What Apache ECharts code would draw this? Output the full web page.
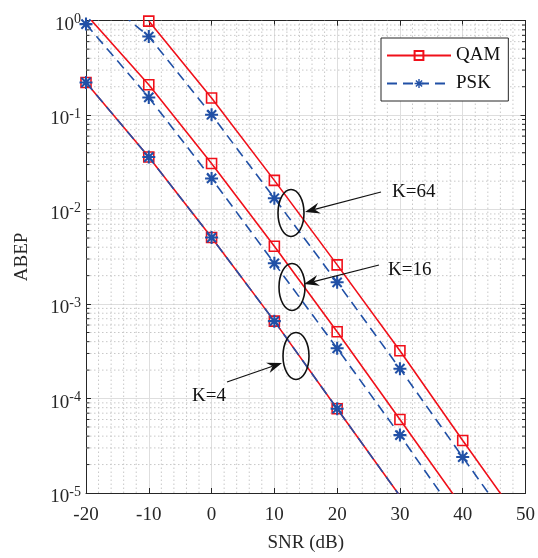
<!DOCTYPE html>
<html lang="en">
<head>
    <meta charset="UTF-8">
    <title>ABEP vs SNR</title>
    <style type="text/css">
        html, body { margin: 0; padding: 0; background: #fff; }
        #main { width: 538px; height: 558px; }
    </style>
</head>
<body>
    <div id="main"></div>
    <script type="text/javascript" src="https://cdn.jsdelivr.net/npm/echarts@6/dist/echarts.min.js"></script>
    <script type="text/javascript">
        // SNR (dB) sample points, markers every 10 dB
        var snr = [-20, -10, 0, 10, 20, 30, 40, 50];
        // ABEP (null = not drawn)
        var qam4 = [0.222, 0.036, 0.00506, 6.6e-4, 7.8e-5, 9.3e-6, null, null];
        var psk4 = [0.222, 0.036, 0.00506, 6.6e-4, 7.8e-5, 9.3e-6, null, null];
        var qam16 = [1.17, 0.21, 0.0308, 0.0041, 5.1e-4, 6.0e-5, 7.0e-6, null];
        var psk16 = [0.92, 0.154, 0.0214, 0.0027, 3.4e-4, 4.1e-5, 4.6e-6, null];
        var qam64 = [null, 0.99, 0.152, 0.0204, 0.0026, 3.2e-4, 3.6e-5, 4.2e-6];
        var psk64 = [2.45, 0.68, 0.101, 0.0132, 0.0017, 2.07e-4, 2.4e-5, 2.8e-6];
        var xTicks = [-20, -10, 0, 10, 20, 30, 40, 50];
        var yMin = 1e-5, yMax = 1;

        var RED = '#f0101a';
        var BLUE = '#2150a6';
        var INK = '#262626';
        var FONT = 'Liberation Serif';

        function pairs(ys) {
            var out = [];
            for (var i = 0; i < snr.length; i++) {
                if (ys[i] !== null) out.push([snr[i], ys[i]]);
            }
            return out;
        }

        // asterisk marker made of 4 thin bars
        function asteriskPath() {
            var r = 12, t = 3.8, c = 12, d = '';
            [0, 45, 90, 135].forEach(function (a) {
                var rad = a * Math.PI / 180;
                var dx = Math.cos(rad), dy = Math.sin(rad);
                var px = -dy, py = dx;
                var pts = [
                    [c + dx * r + px * t / 2, c + dy * r + py * t / 2],
                    [c - dx * r + px * t / 2, c - dy * r + py * t / 2],
                    [c - dx * r - px * t / 2, c - dy * r - py * t / 2],
                    [c + dx * r - px * t / 2, c + dy * r - py * t / 2]
                ];
                d += 'M' + pts.map(function (p) { return p[0].toFixed(2) + ',' + p[1].toFixed(2); }).join('L') + 'Z';
            });
            return 'path://' + d;
        }
        var ASTER = asteriskPath();

        function qamSeries(ys) {
            return {
                name: 'QAM', type: 'line', data: pairs(ys), z: 3,
                symbol: 'rect', symbolSize: 10, clip: true,
                lineStyle: { color: RED, width: 1.6 },
                itemStyle: { color: 'rgba(255,255,255,0)', borderColor: RED, borderWidth: 1.6 }
            };
        }
        function pskSeries(ys) {
            return {
                name: 'PSK', type: 'line', data: pairs(ys), z: 4,
                symbol: ASTER, symbolSize: 13, clip: true,
                lineStyle: { color: BLUE, width: 1.6, type: [10, 6] },
                itemStyle: { color: BLUE }
            };
        }

        // minor grid (log decades 2..9 and every 2 dB)
        var minorData = [];
        for (var x = -20; x < 50; x += 2) {
            if (x % 10 !== 0) minorData.push([x, 1e-3, 0]);
        }
        for (var e = -5; e < 0; e++) {
            for (var k = 2; k <= 9; k++) minorData.push([0, k * Math.pow(10, e), 1]);
        }

        function renderMinor(params, api) {
            var kind = api.value(2);
            var dot = { stroke: '#c8c8c8', lineWidth: 1, lineDash: [1.5, 2.5] };
            if (kind === 0) {
                var a = api.coord([api.value(0), yMin]);
                var b = api.coord([api.value(0), yMax]);
                return { type: 'line', shape: { x1: a[0], y1: a[1], x2: b[0], y2: b[1] }, style: dot };
            }
            var l = api.coord([-20, api.value(1)]);
            var r = api.coord([50, api.value(1)]);
            var tick = { stroke: INK, lineWidth: 1 };
            return {
                type: 'group', children: [
                    { type: 'line', shape: { x1: l[0], y1: l[1], x2: r[0], y2: r[1] }, style: dot },
                    { type: 'line', shape: { x1: l[0], y1: l[1], x2: l[0] + 3.5, y2: l[1] }, style: tick },
                    { type: 'line', shape: { x1: r[0] - 3.5, y1: r[1], x2: r[0], y2: r[1] }, style: tick }
                ]
            };
        }

        function arrow(x1, y1, x2, y2) {
            var ang = Math.atan2(y2 - y1, x2 - x1);
            var L = 15, W = 5.5, N = 10;
            var ca = Math.cos(ang), sa = Math.sin(ang);
            function pt(back, side) { return [x2 - ca * back - sa * side, y2 - sa * back + ca * side]; }
            return [
                { type: 'line', shape: { x1: x1, y1: y1, x2: pt(N, 0)[0], y2: pt(N, 0)[1] }, style: { stroke: '#111', lineWidth: 1.2 } },
                { type: 'polygon', shape: { points: [[x2, y2], pt(L, W), pt(N, 0), pt(L, -W)] }, style: { fill: '#111' } }
            ];
        }
        function ellipse(cx, cy) {
            return { type: 'ellipse', shape: { cx: cx, cy: cy, rx: 13, ry: 23.5 }, style: { fill: null, stroke: '#111', lineWidth: 1.6 } };
        }
        function label(txt, x, y) {
            return { type: 'text', x: x, y: y, style: { text: txt, font: '19px "' + FONT + '"', fill: '#111', verticalAlign: 'middle' } };
        }

        var annotations = [].concat(
            [ellipse(291, 213), ellipse(292, 287), ellipse(296, 356)],
            arrow(381, 192, 305, 212),
            arrow(379, 265, 304, 284),
            arrow(227, 382, 282, 363),
            [label('K=64', 392, 192), label('K=16', 388, 270), label('K=4', 192, 396)]
        ).map(function (g) { g.z = 10; return g; });

        var axisLineStyle = { show: true, onZero: false, lineStyle: { color: INK, width: 1 } };
        var tickStyle = { show: true, inside: true, length: 5, lineStyle: { color: INK } };

        var myChart = echarts.init(document.getElementById('main'), null, { renderer: 'canvas' });
        var option = {
            backgroundColor: '#fff',
            animation: false,
            textStyle: { fontFamily: FONT },
            grid: { left: 86, right: 9.5, top: 20.7, bottom: 63 },
            legend: {
                data: ['QAM', 'PSK'],
                orient: 'vertical',
                left: 381, top: 38,
                width: 132, height: 57,
                padding: [8, 8, 8, 5],
                itemGap: 9,
                itemWidth: 64, itemHeight: 11,
                selectedMode: false,
                backgroundColor: '#fff',
                borderColor: INK, borderWidth: 1,
                textStyle: { fontFamily: FONT, fontSize: 19, color: '#111', padding: [0, 0, 0, 0] }
            },
            xAxis: [{
                type: 'value', min: -20, max: 50, interval: 10,
                name: 'SNR (dB)', nameLocation: 'middle', nameGap: 41,
                nameTextStyle: { fontFamily: FONT, fontSize: 19, color: INK },
                axisLine: axisLineStyle,
                axisTick: tickStyle,
                axisLabel: { fontFamily: FONT, fontSize: 19, color: INK, margin: 13,
                    formatter: function (v) { return xTicks.indexOf(v) >= 0 ? String(v) : ''; } },
                splitLine: { show: true, lineStyle: { color: '#dedede', width: 1 } }
            }, {
                type: 'value', min: -20, max: 50, interval: 10, position: 'top',
                axisLine: axisLineStyle,
                axisTick: tickStyle,
                axisLabel: { show: false }, splitLine: { show: false }
            }],
            yAxis: [{
                type: 'log', logBase: 10, min: yMin, max: yMax,
                name: 'ABEP', nameLocation: 'middle', nameGap: 54, nameRotate: 90,
                nameTextStyle: { fontFamily: FONT, fontSize: 19, color: INK },
                axisLine: axisLineStyle,
                axisTick: tickStyle,
                axisLabel: {
                    margin: 5, color: INK,
                    formatter: function (v) {
                        var ex = Math.round(Math.log(v) / Math.LN10);
                        return '{b|10}{s|' + ex + '}';
                    },
                    rich: {
                        b: { fontFamily: FONT, fontSize: 19, color: INK, padding: [8, 0, 0, 0] },
                        s: { fontFamily: FONT, fontSize: 14, color: INK, padding: [0, 0, 2, 0] }
                    }
                },
                splitLine: { show: true, lineStyle: { color: '#dedede', width: 1 } }
            }, {
                type: 'log', logBase: 10, min: yMin, max: yMax, position: 'right',
                axisLine: axisLineStyle,
                axisTick: tickStyle,
                axisLabel: { show: false }, splitLine: { show: false }
            }],
            graphic: annotations,
            series: [
                {
                    name: 'minor', type: 'custom', data: minorData, z: 1, silent: true,
                    encode: { x: 0, y: 1 }, renderItem: renderMinor
                },
                qamSeries(qam4), pskSeries(psk4),
                qamSeries(qam16), pskSeries(psk16),
                qamSeries(qam64), pskSeries(psk64)
            ]
        };
        myChart.setOption(option);
    </script>
</body>
</html>
